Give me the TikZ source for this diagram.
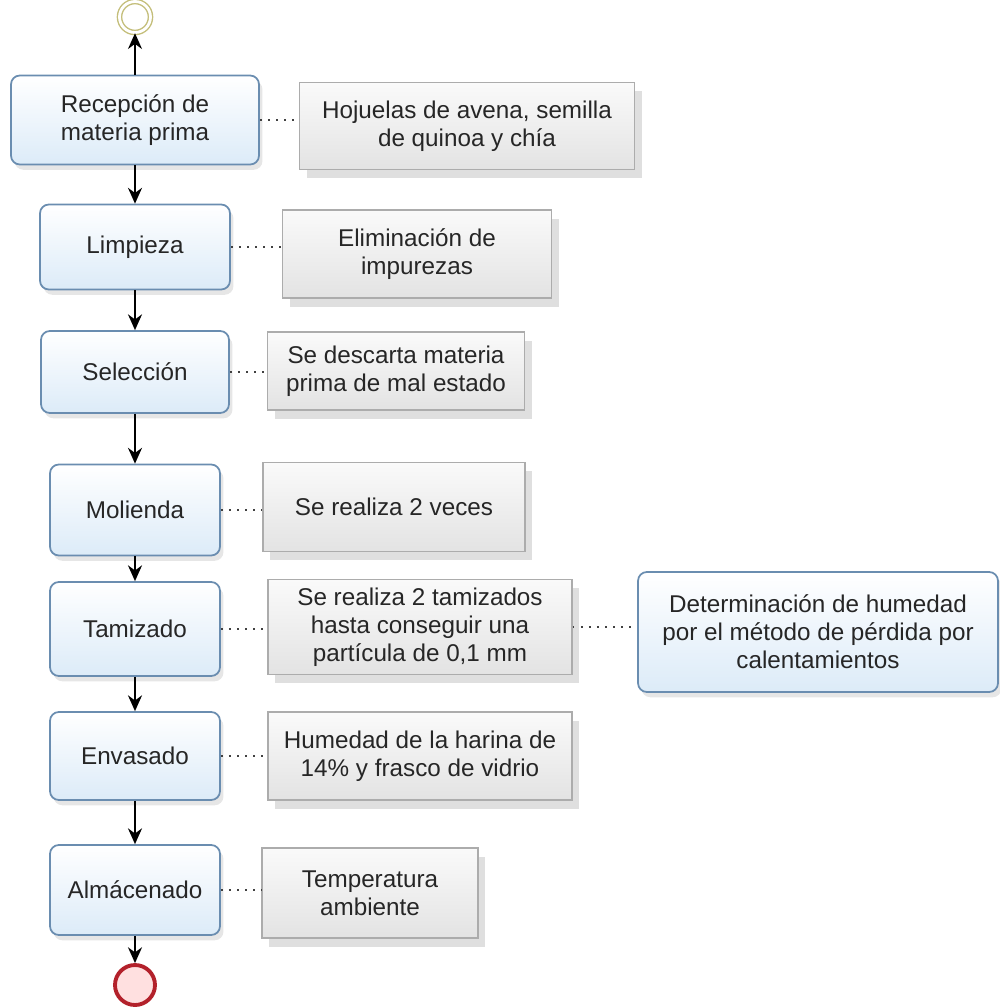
\documentclass[tikz,border=0pt]{standalone}
\usepackage{fontspec}
\setmainfont{Liberation Sans}
\usetikzlibrary{arrows.meta,shadows}
\definecolor{procline}{HTML}{6A8DB0}
\definecolor{procfill}{HTML}{DCEBF8}
\definecolor{startline}{HTML}{C4BE7A}
\definecolor{endline}{HTML}{B3212B}
\begin{document}
\begin{tikzpicture}[x = 0.02cm, y = -0.02cm,
  proc/.style = {draw = procline, line width = 1pt, rounded corners = 5pt,
    top color = white, bottom color = procfill, align = center, inner sep = 0pt,
    font = \fontsize{13.8}{16}\selectfont, text = black!85,
    drop shadow = {shadow xshift = 2pt, shadow yshift = -3pt, opacity = .2}},
  note/.style = {draw = gray!65, line width = .8pt,
    top color = gray!4, bottom color = gray!22, align = center, inner sep = 0pt,
    font = \fontsize{13.8}{16}\selectfont, text = black!85,
    drop shadow = {shadow xshift = 4pt, shadow yshift = -5pt, opacity = .25}},
  link/.style = {dash pattern = on 1pt off 3.6pt, line width = 1pt, black!75},
  flow/.style = {-{Stealth[length = 9pt, width = 8pt]}, line width = .9pt}]
\useasboundingbox (0,0) rectangle (1000,1008);
\node (start) [circle, draw = startline, line width = .8pt, double = white,
  double distance = 1.6pt, minimum size = .62cm, fill = white] at (135,17) {};
\node (rec) [proc, minimum width = 4.96cm, minimum height = 1.78cm] at (135,120) {Recepción de\\materia prima};
\node (lim) [proc, minimum width = 3.8cm, minimum height = 1.7cm] at (135,247) {Limpieza};
\node (sel) [proc, minimum width = 3.76cm, minimum height = 1.64cm] at (135,372) {Selección};
\node (mol) [proc, minimum width = 3.4cm, minimum height = 1.82cm] at (135,510) {Molienda};
\node (tam) [proc, minimum width = 3.4cm, minimum height = 1.88cm] at (135,629) {Tamizado};
\node (env) [proc, minimum width = 3.4cm, minimum height = 1.76cm] at (135,756) {Envasado};
\node (alm) [proc, minimum width = 3.4cm, minimum height = 1.8cm] at (135,890) {Almácenado};
\node (stop) [circle, draw = endline, line width = 2.2pt, fill = red!12,
  minimum size = .8cm] at (135,985) {};
\node (hoj) [note, minimum width = 6.7cm, minimum height = 1.74cm] at (467,126) {Hojuelas de avena, semilla\\de quinoa y chía};
\node (imp) [note, minimum width = 5.38cm, minimum height = 1.76cm] at (417,254) {Eliminación de\\impurezas};
\node (desc) [note, minimum width = 5.14cm, minimum height = 1.56cm] at (396,371) {Se descarta materia\\prima de mal estado};
\node (veces) [note, minimum width = 5.24cm, minimum height = 1.78cm] at (394,507) {Se realiza 2 veces};
\node (tamiz) [note, minimum width = 6.08cm, minimum height = 1.9cm] at (420,627) {Se realiza 2 tamizados\\hasta conseguir una\\partícula de 0,1 mm};
\node (hum) [proc, minimum width = 7.2cm, minimum height = 2.4cm] at (818,632) {Determinación de humedad\\por el método de pérdida por\\calentamientos};
\node (frasco) [note, minimum width = 6.08cm, minimum height = 1.76cm] at (420,756) {Humedad de la harina de\\14\% y frasco de vidrio};
\node (temp) [note, minimum width = 4.32cm, minimum height = 1.8cm] at (370,893) {Temperatura\\ambiente};
\draw [flow] (rec) -- (start);
\draw [flow] (rec) -- (lim);
\draw [flow] (lim) -- (sel);
\draw [flow] (sel) -- (mol);
\draw [flow] (mol) -- (tam);
\draw [flow] (tam) -- (env);
\draw [flow] (env) -- (alm);
\draw [flow] (alm) -- (stop);
\draw [link] (rec.east) -- (rec.east -| hoj.west);
\draw [link] (lim.east) -- (lim.east -| imp.west);
\draw [link] (sel.east) -- (sel.east -| desc.west);
\draw [link] (mol.east) -- (mol.east -| veces.west);
\draw [link] (tam.east) -- (tam.east -| tamiz.west);
\draw [link] (tamiz.east) -- (tamiz.east -| hum.west);
\draw [link] (env.east) -- (env.east -| frasco.west);
\draw [link] (alm.east) -- (alm.east -| temp.west);
\end{tikzpicture}
\end{document}
